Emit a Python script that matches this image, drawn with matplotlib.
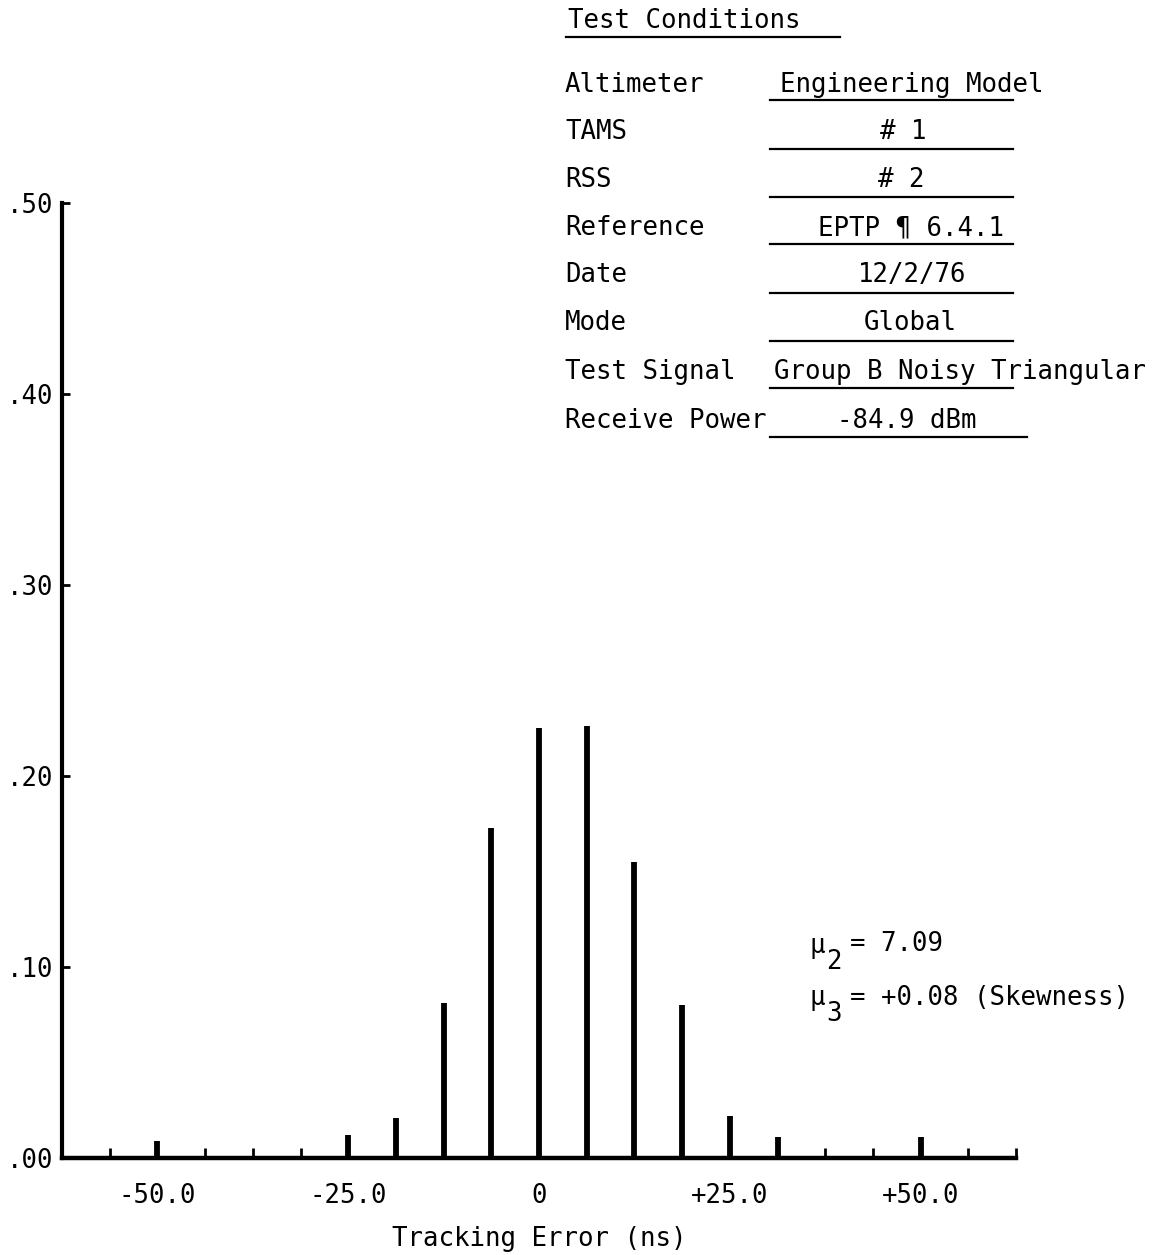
import matplotlib
matplotlib.use("Agg")
import matplotlib.pyplot as plt
import numpy as np

# ---- data ----
tracking_error = [-50.0, -25.0, -18.75, -12.5, -6.25, 0.0, 6.25, 12.5, 18.75, 25.0, 31.25, 50.0]
probability = [0.009, 0.012, 0.021, 0.081, 0.173, 0.225, 0.226, 0.155, 0.080, 0.022, 0.011, 0.011]

major_ticks = [-50.0, -25.0, 0.0, 25.0, 50.0]
major_labels = ["-50.0", "-25.0", "0", "+25.0", "+50.0"]
y_ticks = [0.0, 0.1, 0.2, 0.3, 0.4, 0.5]
y_labels = [".00", ".10", ".20", ".30", ".40", ".50"]

cond_labels = ["Altimeter", "TAMS", "RSS", "Reference", "Date", "Mode",
               "Test Signal", "Receive Power"]
cond_values = ["Engineering Model", "# 1", "# 2", "EPTP \u00b6 6.4.1", "12/2/76",
               "Global", "Group B Noisy Triangular", "-84.9 dBm"]

FONT = "DejaVu Sans Mono"
FS = 18.5
plt.rcParams['font.family'] = [FONT, 'DejaVu Sans']

W, H = 1174, 1255
fig = plt.figure(figsize=(W / 100, H / 100), dpi=100)

def fx(px):
    return px / W

def fy(py):
    return 1 - py / H

ax = fig.add_axes([fx(62), fy(1158), fx(1016) - fx(62), fy(203) - fy(1158)])
ax.vlines(tracking_error, 0, probability, color="black", linewidth=4.2)
ax.set_xlim(-62.5, 62.5)
ax.set_ylim(0, 0.5)
for s in ["top", "right"]:
    ax.spines[s].set_visible(False)
ax.spines["left"].set_linewidth(3)
ax.spines["bottom"].set_linewidth(3.2)

minor = [m for m in np.arange(-56.25, 62.6, 6.25) if m not in major_ticks]
ax.set_xticks(major_ticks)
ax.set_xticklabels(major_labels, fontsize=FS)
ax.set_xticks(minor, minor=True)
ax.tick_params(axis="x", which="both", direction="in", length=7, width=2, pad=18)
ax.set_yticks(y_ticks)
ax.set_yticklabels(y_labels, fontsize=FS)
ax.tick_params(axis="y", direction="in", length=6, width=2, pad=6)
ax.set_xlabel("Tracking Error (ns)", fontsize=FS, labelpad=12)

# ---- test conditions block ----
fig.text(fx(568), fy(21), "Test Conditions", fontsize=FS, ha="left", va="center")
fig.add_artist(plt.Line2D([fx(566), fx(840)], [fy(37), fy(37)], color="black", lw=1.6))

row_y = [85, 132, 180, 228, 275, 323, 372, 421]
line_y = [100, 149, 197, 244, 293, 341, 388, 437]
val_x = [912, 903, 901, 911, 912, 910, None, 907]
for lab, val, ry, ly, vx in zip(cond_labels, cond_values, row_y, line_y, val_x):
    fig.text(fx(565), fy(ry), lab, fontsize=FS, ha="left", va="center")
    if vx is None:
        fig.text(fx(774), fy(ry), val, fontsize=FS, ha="left", va="center")
    else:
        fig.text(fx(vx), fy(ry), val, fontsize=FS, ha="center", va="center")
    x1 = 1027 if lab == "Receive Power" else 1013
    fig.add_artist(plt.Line2D([fx(770), fx(x1)], [fy(ly), fy(ly)], color="black", lw=1.6))

# ---- moments ----
fig.text(fx(810), fy(946), "\u03bc", fontsize=FS, ha="left", va="center")
fig.text(fx(826), fy(962), "2", fontsize=FS, ha="left", va="center")
fig.text(fx(850), fy(944), "= 7.09", fontsize=FS, ha="left", va="center")
fig.text(fx(810), fy(998), "\u03bc", fontsize=FS, ha="left", va="center")
fig.text(fx(826), fy(1014), "3", fontsize=FS, ha="left", va="center")
fig.text(fx(850), fy(998), "= +0.08 (Skewness)", fontsize=FS, ha="left", va="center")

fig.savefig("out.png", dpi=100)
